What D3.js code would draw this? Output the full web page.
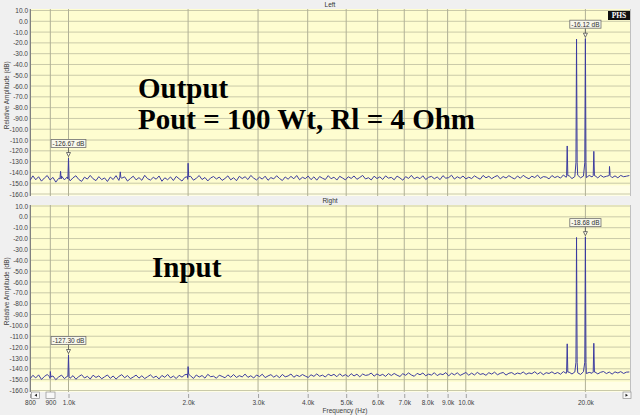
<!DOCTYPE html>
<html><head><meta charset="utf-8">
<script src="https://cdn.jsdelivr.net/npm/d3@7"></script>
<style>body{margin:0;background:#f0f0f0}svg{display:block}</style>
</head><body>
<script>
// ---------- data ----------
const freqTicks = [800, 900, 1000, 2000, 3000, 4000, 5000, 6000, 7000, 8000, 9000, 10000, 20000];
const freqTickLabels = ["800", "900", "1.0k", "2.0k", "3.0k", "4.0k", "5.0k", "6.0k", "7.0k", "8.0k", "9.0k", "10.0k", "20.0k"];
const dbTicks = [10, 0, -10, -20, -30, -40, -50, -60, -70, -80, -90, -100, -110, -120, -130, -140, -150, -160];
const panelTitles = ["Left", "Right"];
const noiseStartHz = 800, noiseEndHz = 25800;

const leftNoise = [
-147.5,-143.2,-146.8,-144.0,-148.1,-145.2,-142.9,-147.0,-144.6,-149.0,-145.5,-143.4,-146.9,-144.2,
-147.8,-145.0,-143.1,-146.5,-148.3,-144.4,-146.2,-142.8,-145.9,-147.6,-143.9,-146.7,-145.1,-148.4,
-144.3,-146.6,-143.0,-147.4,-145.3,-144.1,-148.0,-145.7,-143.5,-146.9,-144.8,-147.3,-142.7,-145.8,
-147.1,-144.5,-146.3,-143.3,-148.2,-145.0,-146.8,-144.2,-147.5,-143.7,-145.9,-148.0,-144.6,-146.4,
-143.6,-147.2,-145.4,-142.9,-146.6,-144.7,-147.9,-145.1,-143.8,-146.1,-144.3,-147.4,-145.6,-143.2,
-146.9,-144.9,-147.7,-143.6,-145.7,-144.0,-146.6,-142.8,-145.3,-147.0,-144.4,-146.2,-143.5,-147.3,
-144.8,-146.0,-143.1,-145.6,-147.5,-144.2,-146.3,-143.7,-145.9,-142.9,-146.8,-144.5,-145.8,-143.4,
-146.7,-144.1,-147.2,-143.8,-145.4,-146.6,-143.0,-145.9,-144.4,-147.1,-143.6,-145.2,-146.9,-144.0,
-145.6,-143.3,-146.4,-144.7,-142.8,-146.1,-144.9,-147.0,-143.5,-145.7,-144.1,-146.5,-143.2,-145.3,
-144.6,-146.8,-143.4,-145.1,-147.2,-143.9,-145.6,-142.7,-146.0,-144.3,-145.8,-143.1,-146.6,-144.5,
-143.7,-145.9,-144.2,-146.7,-143.0,-145.4,-144.8,-142.6,-146.2,-144.0,-145.5,-143.3,-146.1,-144.4,
-145.7,-143.2,-144.9,-146.3,-142.8,-145.0,-143.6,-145.8,-144.1,-142.9,-146.0,-143.8,-145.2,-143.0,
-144.7,-146.1,-143.3,-145.4,-142.7,-144.6,-145.9,-143.5,-144.8,-142.5,-145.6,-143.9,-144.3,-146.0,
-142.9,-144.8,-143.6,-145.3,-142.4,-144.5,-143.1,-145.7,-143.8,-142.6,-145.0,-143.4,-144.9,-142.8,
-144.2,-143.0,-145.1,-142.7,-144.4,-143.6,-142.3,-144.9,-143.2,-145.0,-142.8,-144.0,-143.5,-142.9];

const rightNoise = [
-149.3,-146.0,-148.4,-145.6,-149.8,-147.1,-145.3,-148.9,-146.6,-150.0,-147.5,-145.8,-149.0,-146.9,
-148.7,-146.3,-149.6,-147.2,-145.5,-148.5,-146.9,-149.4,-145.9,-148.0,-146.5,-149.2,-147.4,-145.7,
-148.8,-146.6,-149.5,-147.0,-145.4,-148.3,-146.2,-149.1,-147.6,-145.8,-148.6,-146.4,-149.0,-147.3,
-145.6,-148.2,-146.8,-149.3,-146.1,-147.9,-145.2,-148.4,-146.7,-149.0,-146.0,-147.7,-145.5,-148.1,
-146.5,-148.9,-145.7,-147.6,-146.2,-148.6,-145.1,-147.3,-146.8,-148.7,-145.9,-147.0,-148.3,-145.6,
-147.8,-145.3,-148.0,-146.3,-147.5,-144.9,-147.9,-146.4,-148.5,-145.7,-147.2,-145.0,-148.1,-146.6,
-145.4,-147.7,-146.0,-148.2,-145.2,-147.4,-146.6,-144.8,-147.8,-145.9,-147.1,-145.3,-146.7,-148.0,
-145.5,-147.0,-144.7,-146.9,-145.8,-147.6,-144.9,-146.4,-145.1,-147.3,-144.6,-146.8,-145.4,-147.2,
-144.5,-146.6,-145.0,-147.4,-144.8,-146.1,-145.6,-143.9,-146.8,-144.7,-146.3,-145.1,-147.0,-144.4,
-146.2,-144.3,-145.9,-147.1,-144.5,-146.0,-143.8,-145.7,-146.9,-144.2,-145.5,-143.9,-146.4,-144.9,
-145.8,-143.6,-146.3,-144.6,-145.4,-143.5,-146.5,-144.1,-145.6,-143.7,-146.1,-144.8,-143.4,-145.9,
-144.0,-145.7,-143.3,-145.2,-144.4,-146.0,-143.6,-144.9,-143.1,-145.5,-144.2,-143.4,-145.8,-144.1,
-143.5,-145.3,-143.9,-144.7,-142.9,-145.1,-143.8,-144.5,-142.7,-144.9,-143.2,-145.4,-143.6,-144.3,
-142.8,-144.6,-143.4,-145.0,-142.6,-144.2,-143.1,-144.8,-142.9,-143.7,-145.2,-142.7,-144.4,-143.3,
-144.1,-142.9,-144.7,-143.2,-142.5,-144.4,-143.0,-144.9,-142.8,-143.9,-142.6,-144.3,-143.1,-142.9];

// spectral lines: frequency (Hz), peak (dB), base level (dB)
const leftSpikes = [
  {f: 955, db: -139.0, base: -146},
  {f: 1000, db: -126.67, base: -146},
  {f: 1350, db: -139.5, base: -145},
  {f: 2000, db: -131.5, base: -144},
  {f: 18000, db: -115.5, base: -143},
  {f: 19000, db: -16.5, base: -131},
  {f: 20000, db: -16.12, base: -131},
  {f: 21000, db: -120.5, base: -143},
  {f: 23000, db: -134.5, base: -143}];
const rightSpikes = [
  {f: 900, db: -142.5, base: -147.5},
  {f: 1000, db: -127.30, base: -147},
  {f: 2000, db: -138.0, base: -145},
  {f: 18000, db: -117.0, base: -143},
  {f: 19000, db: -19.0, base: -134},
  {f: 20000, db: -18.68, base: -134},
  {f: 21000, db: -116.5, base: -143}];

const leftMarkers = [{f: 1000, db: -126.67, label: "-126.67 dB"}, {f: 20000, db: -16.12, label: "-16.12 dB"}];
const rightMarkers = [{f: 1000, db: -127.30, label: "-127.30 dB"}, {f: 20000, db: -18.68, label: "-18.68 dB"}];

const overlayTexts = [
  {text: "Output", x: 138, y: 98, panel: 0},
  {text: "Pout = 100 Wt, Rl = 4 Ohm", x: 138, y: 129, panel: 0},
  {text: "Input", x: 152, y: 277, panel: 1}];

// ---------- layout ----------
const W = 640, H = 415;
const svg = d3.select("body").append("svg").attr("width", W).attr("height", H)
  .style("font-family", "'Liberation Sans', Arial, sans-serif");
svg.append("rect").attr("width", W).attr("height", H).attr("fill", "#f0f0f0");

const x = d3.scaleLog().domain([800, 25900]).range([30, 630]);
const panels = [
  {y0: 10.5, y1: 194, top: 9, bottom: 196, noise: leftNoise, spikes: leftSpikes, markers: leftMarkers},
  {y0: 206, y1: 390.5, top: 205, bottom: 392, noise: rightNoise, spikes: rightSpikes, markers: rightMarkers}];

function buildTrace(noise, spikes) {
  const n = noise.length;
  const pts = noise.map((v, i) => [noiseStartHz * Math.pow(noiseEndHz / noiseStartHz, i / (n - 1)), v]);
  spikes.forEach(s => {
    pts.push([s.f * 0.9965, s.base]);
    pts.push([s.f, s.db]);
    pts.push([s.f * 1.0035, s.base]);
  });
  pts.sort((a, b) => a[0] - b[0]);
  return pts;
}

panels.forEach((p, pi) => {
  const y = d3.scaleLinear().domain([10, -160]).range([p.y0, p.y1]);
  const g = svg.append("g");
  // plot background
  g.append("rect").attr("x", 30).attr("y", p.top).attr("width", 600).attr("height", p.bottom - p.top)
    .attr("fill", "#fefdd0");
  g.append("rect").attr("x", 30).attr("y", y(-152)).attr("width", 600).attr("height", p.bottom - y(-152))
    .attr("fill", "#fffee6");
  // grid
  g.selectAll(".hg").data(dbTicks).join("line")
    .attr("x1", 30).attr("x2", 630).attr("y1", d => y(d)).attr("y2", d => y(d))
    .attr("stroke", "#cacaa8").attr("stroke-width", 1);
  g.selectAll(".vg").data(freqTicks).join("line")
    .attr("x1", d => x(d)).attr("x2", d => x(d)).attr("y1", p.top).attr("y2", p.bottom)
    .attr("stroke", "#b0b096").attr("stroke-width", 1);
  // frame
  g.append("line").attr("x1", 30.5).attr("x2", 30.5).attr("y1", p.top).attr("y2", p.bottom).attr("stroke", "#808080");
  g.append("line").attr("x1", 630.5).attr("x2", 630.5).attr("y1", p.top).attr("y2", p.bottom).attr("stroke", "#c0c0c0");

  // y axis labels
  const ax = d3.axisLeft(y).tickValues(dbTicks).tickFormat(d => d.toFixed(1)).tickSize(0).tickPadding(2);
  const ag = svg.append("g").attr("transform", "translate(30,0)").call(ax);
  ag.select(".domain").remove();
  ag.selectAll("text").attr("font-size", 6.5).attr("fill", "#404040").attr("font-family", "'Liberation Sans', Arial, sans-serif");

  // title
  svg.append("text").attr("x", 330).attr("y", p.top - 2).attr("text-anchor", "middle")
    .attr("font-size", 6.5).attr("fill", "#303030").text(panelTitles[pi]);
  // y title
  svg.append("text").attr("transform", `translate(9,${(p.y0 + p.y1) / 2 - 7}) rotate(-90)`)
    .attr("text-anchor", "middle").attr("font-size", 6.5).attr("fill", "#404040").text("Relative Amplitude (dB)");

  // trace
  const clipId = "clip" + pi;
  svg.append("clipPath").attr("id", clipId).append("rect")
    .attr("x", 30).attr("y", p.top).attr("width", 600).attr("height", p.bottom - p.top);
  const line = d3.line().x(d => x(d[0])).y(d => y(d[1]));
  svg.append("path").attr("clip-path", `url(#${clipId})`).datum(buildTrace(p.noise, p.spikes))
    .attr("d", line).attr("fill", "none").attr("stroke", "#3c3ca0").attr("stroke-width", 1);

  // markers
  p.markers.forEach(m => {
    const mx = x(m.f), my = y(m.db);
    const mg = svg.append("g");
    mg.append("line").attr("x1", mx).attr("x2", mx).attr("y1", my - 10).attr("y2", my - 5)
      .attr("stroke", "#606060").attr("stroke-width", 0.8);
    mg.append("path").attr("d", `M${mx - 2},${my - 5.5}L${mx + 2},${my - 5.5}L${mx},${my - 1.5}Z`)
      .attr("fill", "#fffff0").attr("stroke", "#505050").attr("stroke-width", 0.8);
    const t = mg.append("text").attr("x", mx).attr("y", my - 12).attr("text-anchor", "middle")
      .attr("font-size", 6.5).attr("fill", "#303030").text(m.label);
    const bb = t.node().getBBox();
    mg.insert("rect", "text").attr("x", bb.x - 1.5).attr("y", bb.y - 0.5).attr("width", bb.width + 3).attr("height", bb.height + 1)
      .attr("fill", "#f8f8ec").attr("stroke", "#707070").attr("stroke-width", 0.8);
  });
});

// x axis (bottom panel only)
const xa = d3.axisBottom(x).tickValues(freqTicks).tickFormat((d, i) => freqTickLabels[i]).tickSize(4).tickPadding(2);
const xg = svg.append("g").attr("transform", "translate(0,394)").call(xa);
xg.select(".domain").remove();
xg.selectAll("line").attr("stroke", "#a0a0a0");
xg.selectAll("text").attr("font-size", 6.5).attr("fill", "#404040").attr("font-family", "'Liberation Sans', Arial, sans-serif");
svg.append("text").attr("x", 345).attr("y", 413).attr("text-anchor", "middle").attr("font-size", 6.5)
  .attr("fill", "#404040").text("Frequency (Hz)");

// scroll buttons
[[31.5, 392], [46, 392], [623, 392]].forEach((b, i) => {
  svg.append("rect").attr("x", b[0]).attr("y", b[1]).attr("width", i === 1 ? 9 : 8).attr("height", 6.5)
    .attr("fill", "#f8f8f8").attr("stroke", "#909090").attr("stroke-width", 0.7);
});
svg.append("path").attr("d", "M34.5,395.2L37,393.7L37,396.7Z").attr("fill", "#202020");
svg.append("path").attr("d", "M628,395.2L625.5,393.7L625.5,396.7Z").attr("fill", "#202020");

// PHS logo
svg.append("rect").attr("x", 608).attr("y", 11).attr("width", 22).attr("height", 9).attr("fill", "#101010");
svg.append("text").attr("x", 619).attr("y", 18.3).attr("text-anchor", "middle").attr("font-size", 7.5)
  .attr("font-weight", "bold").attr("font-family", "'Liberation Serif', serif").attr("fill", "#ffffff").text("PHS");

// overlay annotation texts
svg.selectAll(".ov").data(overlayTexts).join("text")
  .attr("x", d => d.x).attr("y", d => d.y).attr("font-size", 29).attr("font-weight", "bold")
  .attr("font-family", "'Liberation Serif', 'Times New Roman', serif").attr("fill", "#000").text(d => d.text);
</script>
</body></html>
